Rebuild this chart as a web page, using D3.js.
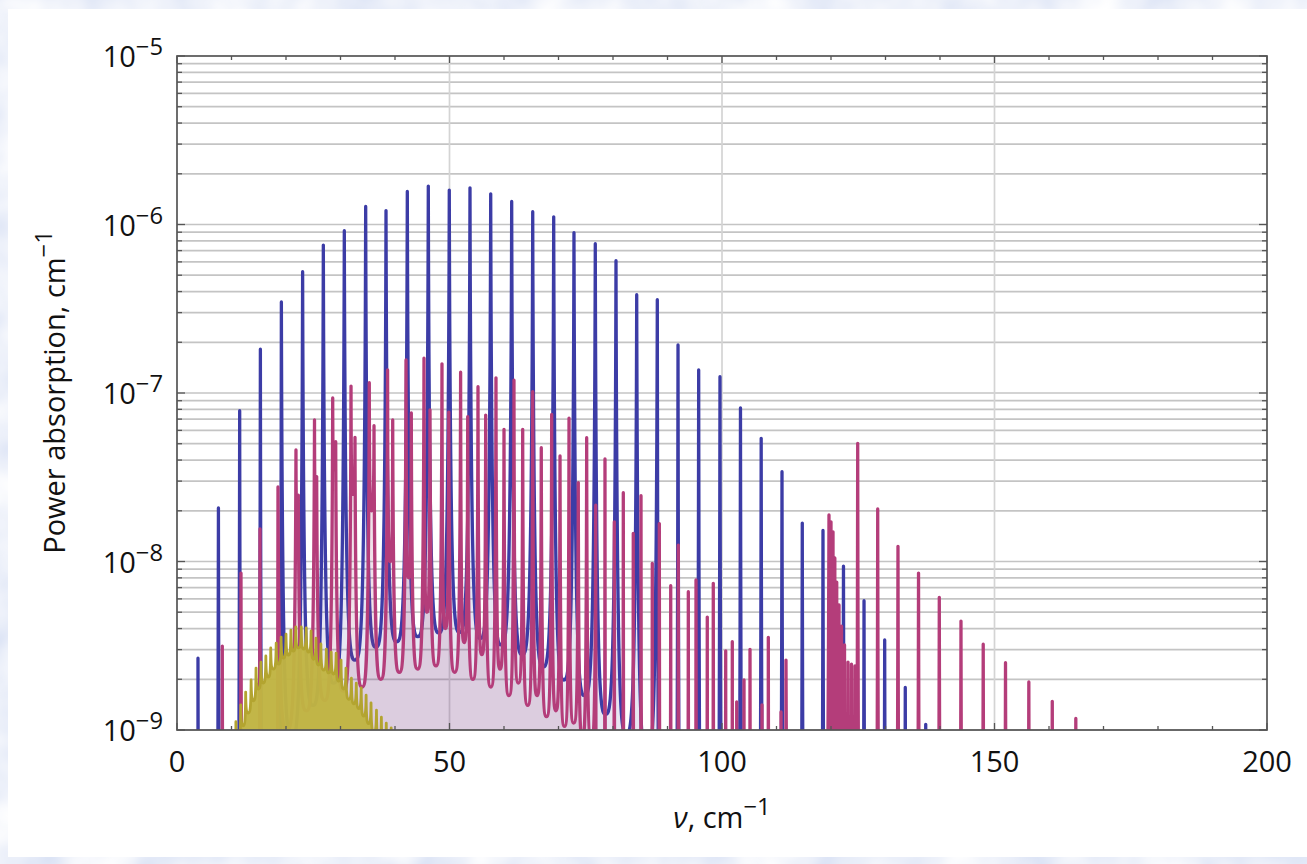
<!DOCTYPE html>
<html>
<head>
<meta charset="utf-8">
<script src="https://cdn.jsdelivr.net/npm/d3@7"></script>
<style>
  html, body { margin: 0; padding: 0; background: #dde7f7; }
  svg { display: block; }
  text { font-family: "Open Sans", "Noto Sans", sans-serif; fill: #111; }
</style>
</head>
<body>
<svg id="chart" width="1307" height="864"></svg>
<script>
// ---- Spectra: line positions (cm^-1), peak absorption and the minima between neighbouring lines ----

// blue series
const blueNu = [3.85, 7.6, 11.5, 15.3, 19.15, 23.05, 26.85, 30.7, 34.62, 38.35, 42.26, 46.11,
  49.96, 53.76, 57.56, 61.41, 65.27, 69.12, 72.84, 76.75, 80.55, 84.35, 88.13, 91.93,
  95.72, 99.63, 103.39, 107.19, 111.01, 114.73, 118.53, 122.29, 126.06, 129.85, 133.63, 137.38];
const bluePeak = [2.67e-9, 2.08e-8, 7.85e-8, 1.82e-7, 3.47e-7, 5.25e-7, 7.55e-7, 9.19e-7,
  1.28e-6, 1.21e-6, 1.57e-6, 1.69e-6, 1.60e-6, 1.65e-6, 1.52e-6, 1.37e-6, 1.19e-6, 1.11e-6,
  8.94e-7, 7.69e-7, 6.10e-7, 3.83e-7, 3.58e-7, 1.93e-7, 1.37e-7, 1.25e-7, 8.15e-8, 5.38e-8,
  3.41e-8, 1.69e-8, 1.53e-8, 9.37e-9, 5.85e-9, 3.42e-9, 1.79e-9, 1.08e-9];
const blueValley = [1e-12, 1e-12, 1e-12, 1e-12, 9e-10, 1.4e-9, 1.9e-9, 2.6e-9, 3.1e-9, 3.34e-9,
  3.58e-9, 3.77e-9, 3.8e-9, 3.5e-9, 3.2e-9, 2.8e-9, 2.37e-9, 1.98e-9, 1.6e-9, 1.24e-9,
  9.5e-10, 7e-10, 1e-12, 1e-12, 1e-12, 1e-12, 1e-12, 1e-12, 1e-12, 1e-12, 1e-12, 1e-12,
  1e-12, 1e-12, 1e-12];

// magenta series
const magentaNu = [8.31, 11.74, 15.23, 18.53, 21.83, 22.26, 25.23, 25.63, 28.57, 29.12,
  31.93, 32.66, 35.28, 36.15, 38.64, 39.58, 42.02, 42.99, 45.32, 46.42, 48.62, 49.87,
  52.04, 53.34, 55.23, 56.64, 58.53, 60.0, 61.83, 63.43, 65.27, 66.84, 68.75, 70.28,
  71.93, 73.63, 75.17, 76.83, 78.53, 80.24, 81.89, 83.72, 85.14, 87.21, 88.5, 90.59,
  91.98, 93.82, 95.23, 97.3, 98.4, 100.68, 101.89, 102.7, 104.04, 105.14, 107.34, 108.5,
  110.83, 111.74,
  119.63, 120.0, 120.37, 120.7, 121.05, 121.47, 121.93, 122.48, 123.12, 123.76, 124.4,
  124.9, 128.57, 132.29, 136.06, 139.87, 143.85, 147.93, 152.02, 156.3, 160.6, 164.92];
const magentaPeak = [3.15e-9, 8.54e-9, 1.56e-8, 2.77e-8, 4.59e-8, 2.48e-8, 6.92e-8, 3.19e-8,
  9.34e-8, 5.14e-8, 1.10e-7, 5.46e-8, 1.15e-7, 6.39e-8, 1.37e-7, 6.92e-8, 1.57e-7, 7.61e-8,
  1.61e-7, 7.93e-8, 1.49e-7, 7.71e-8, 1.33e-7, 7.23e-8, 1.09e-7, 7.40e-8, 1.23e-7, 6.09e-8,
  1.19e-7, 6.09e-8, 1.02e-7, 4.74e-8, 7.47e-8, 4.23e-8, 7.08e-8, 2.94e-8, 5.43e-8, 2.16e-8,
  4.06e-8, 1.72e-8, 2.56e-8, 1.47e-8, 2.46e-8, 9.76e-9, 1.68e-8, 7.18e-9, 1.25e-8, 6.62e-9,
  7.77e-9, 4.68e-9, 7.42e-9, 2.95e-9, 3.34e-9, 1.47e-9, 1.98e-9, 3.01e-9, 1.41e-9, 3.55e-9,
  1.28e-9, 2.60e-9,
  1.89e-8, 1.72e-8, 1.50e-8, 1.05e-8, 7.55e-9, 5.52e-9, 4.14e-9, 3.20e-9, 2.53e-9, 2.46e-9,
  2.40e-9,
  5.03e-8, 2.05e-8, 1.23e-8, 8.54e-9, 6.13e-9, 4.43e-9, 3.23e-9, 2.51e-9, 1.93e-9, 1.48e-9,
  1.17e-9];
const magentaValley = [1e-12, 1e-12, 1e-12, 1e-9, 2e-8, 1.3e-9, 2.5e-8, 1.5e-9, 3.5e-8, 1.7e-9,
  2.5e-8, 1.8e-9, 2e-8, 2e-9, 1e-8, 2.2e-9, 8e-9, 2.3e-9, 5e-9, 2.4e-9, 4e-9, 2.2e-9,
  3.3e-9, 2e-9, 2.8e-9, 1.8e-9, 2.3e-9, 1.6e-9, 1.9e-9, 1.4e-9, 1.6e-9, 1.2e-9, 1.3e-9,
  1.05e-9, 1.1e-9, 9e-10, 9e-10,
  1e-12, 1e-12, 1e-12, 1e-12, 1e-12, 1e-12, 1e-12, 1e-12, 1e-12, 1e-12, 1e-12, 1e-12, 1e-12,
  1e-12, 1e-12, 1e-12, 1e-12, 1e-12, 1e-12, 1e-12, 1e-12, 1e-12,
  1e-12, 1e-12, 1e-12, 1e-12, 1e-12, 1e-12, 1e-12, 1e-12, 1e-12, 1e-12, 1e-12,
  1e-12, 1e-12, 1e-12, 1e-12, 1e-12, 1e-12, 1e-12, 1e-12, 1e-12, 1e-12, 1e-12];

// olive series
const oliveNu = [10.8, 11.7, 12.6, 13.6, 14.5, 15.4, 16.3, 17.2, 18.2, 19.1, 20.0, 20.9,
  21.8, 22.8, 23.7, 24.6, 25.5, 26.4, 27.4, 28.3, 29.2, 30.1, 31.0, 32.0, 32.9, 33.8,
  34.7, 35.6, 36.6, 37.5, 38.4, 39.3];
const olivePeak = [1.12e-9, 1.41e-9, 1.68e-9, 1.98e-9, 2.33e-9, 2.53e-9, 2.75e-9, 3.07e-9,
  3.28e-9, 3.56e-9, 3.71e-9, 3.92e-9, 4.09e-9, 4.09e-9, 4.03e-9, 3.87e-9, 3.51e-9, 3.24e-9,
  3.02e-9, 2.90e-9, 2.86e-9, 2.60e-9, 2.33e-9, 2.03e-9, 1.90e-9, 1.78e-9, 1.61e-9, 1.45e-9,
  1.31e-9, 1.19e-9, 1.10e-9, 1.03e-9];
const oliveValley = [0.84e-9, 1.06e-9, 1.26e-9, 1.49e-9, 1.75e-9, 1.90e-9, 2.06e-9, 2.30e-9,
  2.46e-9, 2.67e-9, 2.78e-9, 2.94e-9, 3.07e-9, 3.02e-9, 2.90e-9, 2.63e-9, 2.43e-9, 2.27e-9,
  2.18e-9, 2.15e-9, 1.95e-9, 1.75e-9, 1.52e-9, 1.43e-9, 1.34e-9, 1.21e-9, 1.09e-9, 0.98e-9,
  0.89e-9, 0.83e-9, 0.77e-9];

// ---- axes ----
const xDomain = [0, 200];
const yDomain = [1e-9, 1e-5];
const xTickLabels = [0, 50, 100, 150, 200];
const xMinorStep = 10;
const yDecades = [-9, -8, -7, -6, -5];

const W = 1307, H = 864;
const plot = { left: 177, right: 1267, top: 56, bottom: 730 };

const svg = d3.select("#chart");
const x = d3.scaleLinear().domain(xDomain).range([plot.left, plot.right]);
const y = d3.scaleLog().domain(yDomain).range([plot.bottom, plot.top]);

// backdrop: pale blue clouded border and white panel
const defs = svg.append("defs");
const clouds = defs.append("filter").attr("id", "clouds")
  .attr("x", 0).attr("y", 0).attr("width", 1).attr("height", 1);
clouds.append("feTurbulence").attr("type", "fractalNoise")
  .attr("baseFrequency", 0.015).attr("numOctaves", 3).attr("seed", 7);
clouds.append("feColorMatrix").attr("type", "matrix")
  .attr("values", "0.5 0 0 0 0.6  0.4 0 0 0 0.68  0.15 0 0 0 0.88  0 0 0 0 1");
svg.append("rect").attr("width", W).attr("height", H).attr("fill", "#dde7f7");
svg.append("rect").attr("width", W).attr("height", H).attr("filter", "url(#clouds)");
svg.append("rect").attr("x", 8).attr("y", 9).attr("width", W - 8).attr("height", 848)
  .attr("fill", "#ffffff");

defs.append("clipPath").attr("id", "plotClip").append("rect")
  .attr("x", plot.left).attr("y", plot.top)
  .attr("width", plot.right - plot.left).attr("height", plot.bottom - plot.top);

// ---- grid ----
const grid = svg.append("g");
const yGridValues = [];
yDecades.slice(0, -1).forEach(e => {
  for (let k = 1; k <= 9; k++) yGridValues.push(k * Math.pow(10, e));
});
grid.selectAll("line.h").data(yGridValues).join("line")
  .attr("x1", plot.left).attr("x2", plot.right)
  .attr("y1", d => y(d)).attr("y2", d => y(d))
  .attr("stroke", "#c4c4c4").attr("stroke-width", 1.7);
grid.selectAll("line.v").data(xTickLabels.slice(1, -1)).join("line")
  .attr("x1", d => x(d)).attr("x2", d => x(d))
  .attr("y1", plot.top).attr("y2", plot.bottom)
  .attr("stroke", "#d4d4d4").attr("stroke-width", 1.7);

// ---- spectra ----
// Each line rises to its peak and falls into a flat-bottomed trough halfway to its neighbour.
function spectrumPath(nu, peak, valley) {
  const p = d3.path();
  const base = y(1e-12);
  const px = nu.map(x), py = peak.map(y);
  p.moveTo(px[0], base);
  p.lineTo(px[0], py[0]);
  for (let i = 0; i < nu.length - 1; i++) {
    const xm = (px[i] + px[i + 1]) / 2;
    const ym = y(valley[i]);
    const h1 = xm - px[i], h2 = px[i + 1] - xm;
    p.bezierCurveTo(px[i] + 0.1 * h1, ym, xm - 0.5 * h1, ym, xm, ym);
    p.bezierCurveTo(xm + 0.5 * h2, ym, px[i + 1] - 0.1 * h2, ym, px[i + 1], py[i + 1]);
  }
  p.lineTo(px[px.length - 1], base);
  return p.toString();
}

const series = [
  { nu: blueNu, peak: bluePeak, valley: blueValley, stroke: "#3c3ca6", fill: "rgba(63,61,153,0.12)", width: 3.3 },
  { nu: magentaNu, peak: magentaPeak, valley: magentaValley, stroke: "#b43d7a", fill: "rgba(153,61,113,0.15)", width: 3.3 },
  { nu: oliveNu, peak: olivePeak, valley: oliveValley, stroke: "#b3a430", fill: "rgba(192,180,66,0.97)", width: 2.8 }
];

const spectra = svg.append("g").attr("clip-path", "url(#plotClip)");
series.forEach(s => {
  const d = spectrumPath(s.nu, s.peak, s.valley);
  spectra.append("path").attr("d", d + "Z").attr("fill", s.fill).attr("stroke", "none");
  spectra.append("path").attr("d", d).attr("fill", "none")
    .attr("stroke", s.stroke).attr("stroke-width", s.width)
    .attr("stroke-linejoin", "round");
});

// ---- frame and ticks ----
const frame = svg.append("g");
frame.append("rect")
  .attr("x", plot.left).attr("y", plot.top)
  .attr("width", plot.right - plot.left).attr("height", plot.bottom - plot.top)
  .attr("fill", "none").attr("stroke", "#555").attr("stroke-width", 1.7);

const xTickValues = d3.range(xDomain[0], xDomain[1] + 1, xMinorStep);
const tickColor = "#555";
[plot.bottom, plot.top].forEach((edge, k) => {
  const dir = k === 0 ? -1 : 1;
  frame.selectAll(null).data(xTickValues).join("line")
    .attr("x1", d => x(d)).attr("x2", d => x(d))
    .attr("y1", edge)
    .attr("y2", d => edge + dir * (xTickLabels.includes(d) ? 7 : 4))
    .attr("stroke", tickColor).attr("stroke-width", 1.3);
});
const yTickValues = yGridValues.concat([yDomain[1]]);
[plot.left, plot.right].forEach((edge, k) => {
  const dir = k === 0 ? 1 : -1;
  frame.selectAll(null).data(yTickValues).join("line")
    .attr("y1", d => y(d)).attr("y2", d => y(d))
    .attr("x1", edge)
    .attr("x2", d => edge + dir * (Math.abs(Math.log10(d) - Math.round(Math.log10(d))) < 1e-6 ? 8 : 5))
    .attr("stroke", tickColor).attr("stroke-width", 1.3);
});

// ---- tick labels ----
const fs = 29;
const labels = svg.append("g");
labels.selectAll("text.x").data(xTickLabels).join("text")
  .attr("x", d => x(d)).attr("y", plot.bottom + 42)
  .attr("text-anchor", "middle").attr("font-size", fs)
  .text(d => d);

yDecades.forEach(e => {
  const t = labels.append("text")
    .attr("x", 163).attr("y", y(Math.pow(10, e)) + 11)
    .attr("text-anchor", "end").attr("font-size", fs);
  t.append("tspan").text("10");
  t.append("tspan").attr("dy", -12).attr("font-size", fs * 0.82).text("\u2212" + Math.abs(e));
});

// ---- axis titles ----
const xt = labels.append("text")
  .attr("x", x(100)).attr("y", 828)
  .attr("text-anchor", "middle").attr("font-size", fs);
xt.append("tspan").attr("font-style", "italic").text("\u03BD");
xt.append("tspan").text(", cm");
xt.append("tspan").attr("dy", -13).attr("font-size", fs * 0.82).text("\u22121");

const yt = labels.append("text")
  .attr("transform", "translate(65,392) rotate(-90)")
  .attr("text-anchor", "middle").attr("font-size", fs);
yt.append("tspan").text("Power absorption, cm");
yt.append("tspan").attr("dy", -13).attr("font-size", fs * 0.82).text("\u22121");
</script>
</body>
</html>
